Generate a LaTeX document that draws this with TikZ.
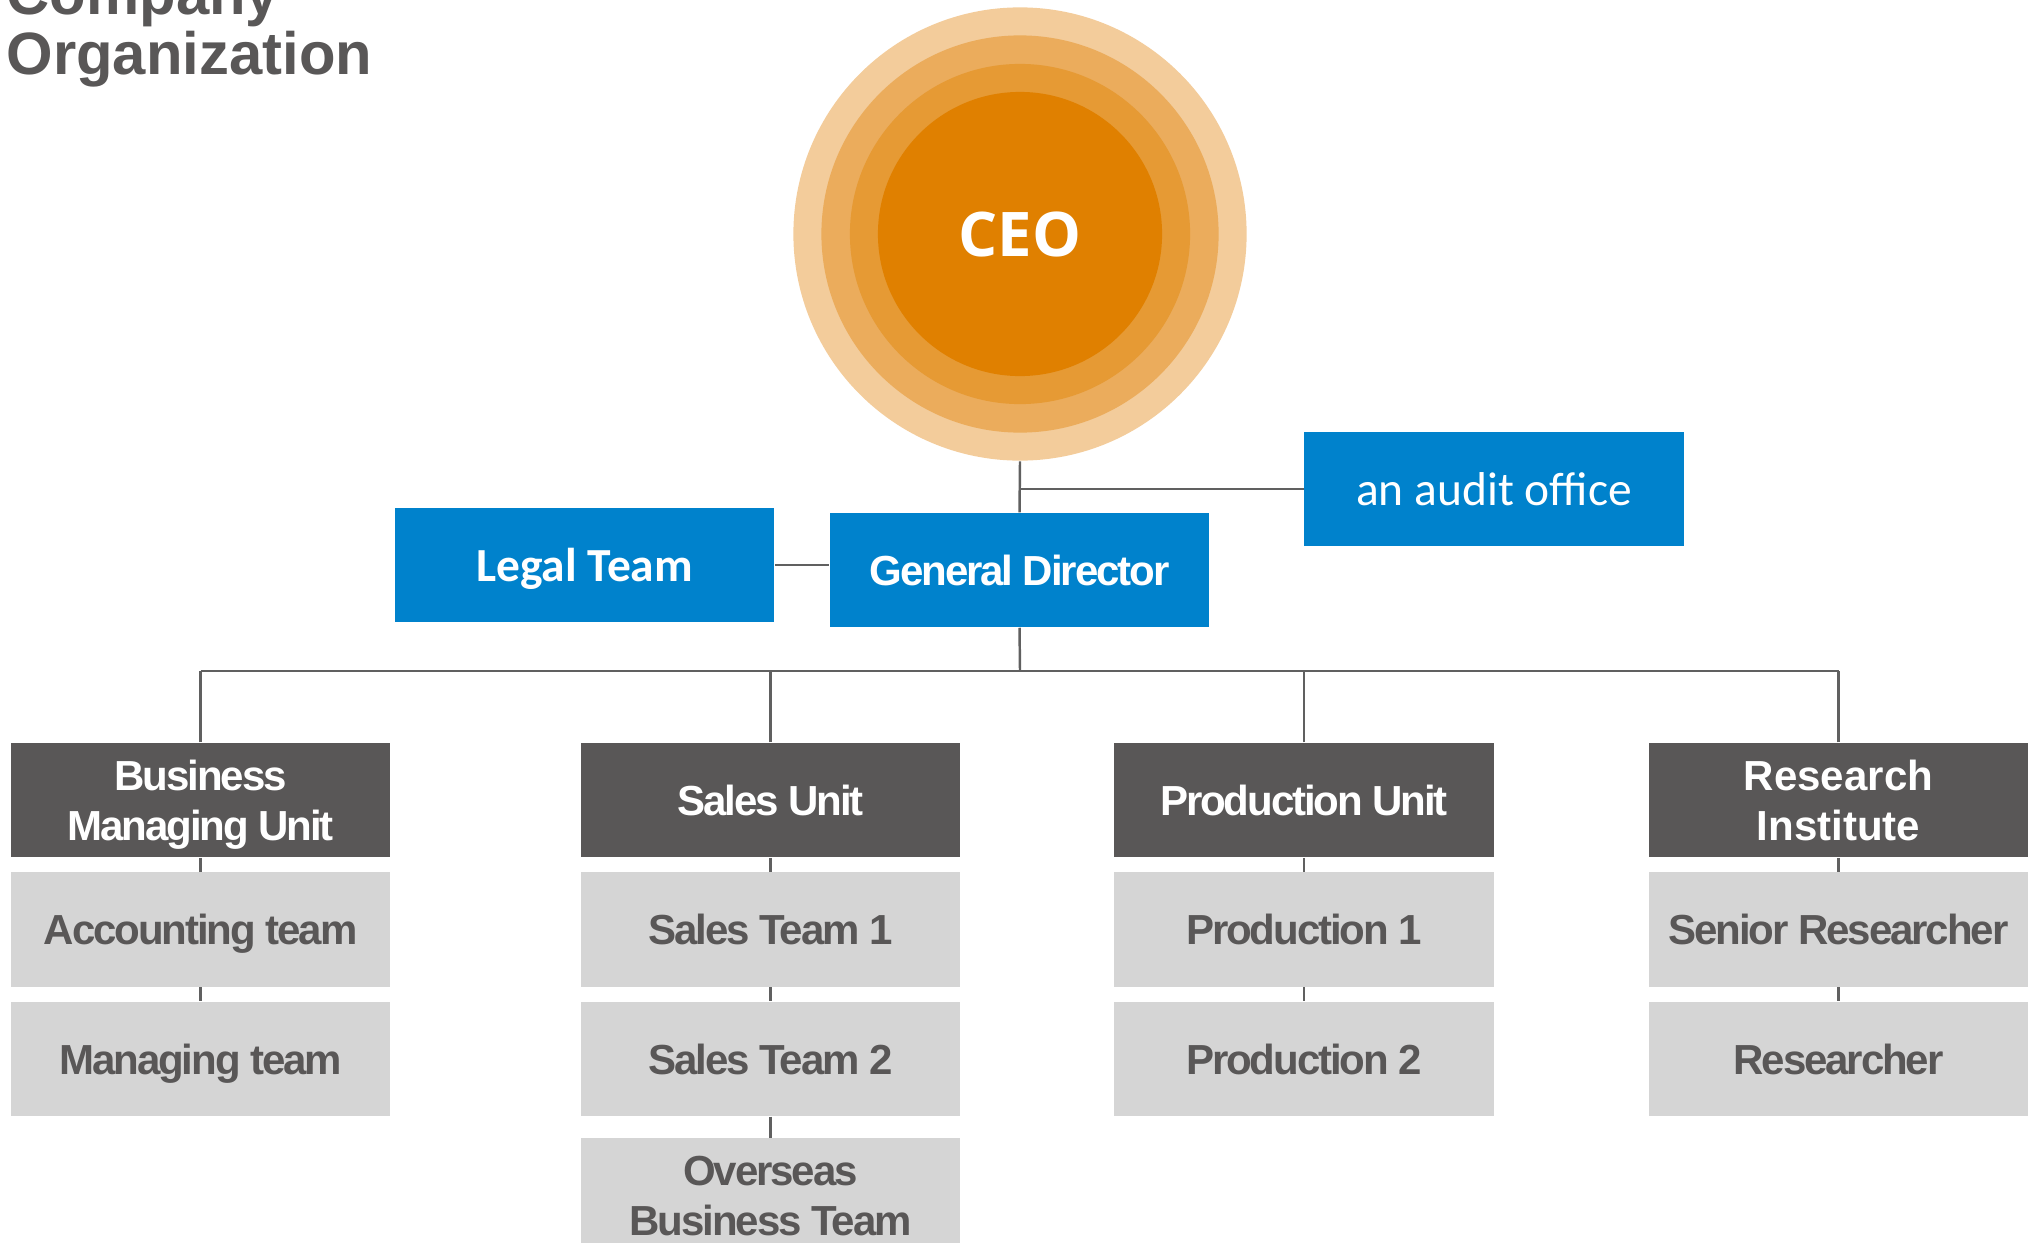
\documentclass[tikz,border=0pt]{standalone}
\usepackage{fontspec}
\setmainfont{Liberation Sans}
\newfontfamily\tightfont{Liberation Sans}[LetterSpace=-5]
\newfontfamily\calfont{Carlito}
\newfontfamily\ceofont{Open Sans}
\usetikzlibrary{positioning}
\definecolor{ringA}{RGB}{243,204,155}
\definecolor{ringB}{RGB}{235,172,92}
\definecolor{ringC}{RGB}{230,154,52}
\definecolor{ringD}{RGB}{224,128,0}
\definecolor{bizblue}{RGB}{0,130,204}
\definecolor{unitgray}{RGB}{89,87,87}
\definecolor{teamgray}{RGB}{213,213,213}
\definecolor{linegray}{RGB}{96,96,96}

\begin{document}
\begin{tikzpicture}[x=0.01cm,y=-0.01cm,
   link/.style={draw=linegray,line width=0.7pt},
   ring/.style={circle,inner sep=0pt},
   titletext/.style={anchor=base west,inner sep=0pt,text=unitgray,font=\bfseries\fontsize{17}{20}\selectfont},
   bluebox/.style={fill=bizblue,text=white,minimum width=3.79cm,minimum height=1.14cm,inner sep=0pt,text depth=0pt,align=center},
   unitbox/.style={fill=unitgray,text=white,minimum width=3.79cm,minimum height=1.14cm,inner sep=0pt,text depth=0pt,align=center,font=\tightfont\bfseries\fontsize{11.95}{14.2}\selectfont},
   teambox/.style={unitbox,fill=teamgray,text=unitgray},
   node distance=0.14cm]
   \useasboundingbox (0,0) rectangle (2037,1242);
   \node[titletext] (title1) at (6,14) {Company};
   \node[titletext] (title2) at (6,74) {Organization};
   \node[ring,fill=ringA,minimum size=4.53cm] (ring1) at (1020,234) {};
   \node[ring,fill=ringB,minimum size=3.97cm] (ring2) at (1020,234) {};
   \node[ring,fill=ringC,minimum size=3.40cm] (ring3) at (1020,234) {};
   \node[ring,fill=ringD,minimum size=2.84cm,text=white,font=\ceofont\bfseries\fontsize{17.5}{20}\selectfont] (ceo) at (1020,234) {CEO};
   \node[bluebox,font=\tightfont\bfseries\fontsize{11.95}{14.2}\selectfont] (gd) at (1019.5,570) {General Director};
   \node[bluebox,font=\calfont\bfseries\fontsize{13.5}{16}\selectfont] (legal) at (584.5,565) {Legal Team};
   \node[bluebox,font=\calfont\fontsize{13.5}{16}\selectfont] (audit) at (1494,489) {an audit office};
   \node[unitbox] (bmu) at (200.6,800) {Business\\Managing Unit};
   \node[unitbox] (sales) at (770.6,800) {Sales Unit};
   \node[unitbox] (prod) at (1304,800) {Production Unit};
   \node[unitbox,font=\bfseries\fontsize{11.95}{14.2}\selectfont] (ri) at (1838.5,800) {Research\\Institute};
   \node[teambox,below=of bmu] (acc) {Accounting team};
   \node[teambox,below=of acc] (mng) {Managing team};
   \node[teambox,below=of sales] (st1) {Sales Team 1};
   \node[teambox,below=of st1] (st2) {Sales Team 2};
   \node[teambox,below=0.21cm of st2] (ovs) {Overseas\\Business Team};
   \node[teambox,below=of prod] (pr1) {Production 1};
   \node[teambox,below=of pr1] (pr2) {Production 2};
   \node[teambox,below=of ri] (sr) {Senior Researcher};
   \node[teambox,below=of sr] (res) {Researcher};
   \coordinate (bus) at (1020,671);
   \draw[link] (ring1.south) -- (gd.north);
   \draw[link] (audit.west) -- (audit.west -| gd.north);
   \draw[link] (legal.east) -- (legal.east -| gd.west);
   \draw[link] (gd.south) -- (bus);
   \draw[link] (bmu.north |- bus) -- (ri.north |- bus);
   \foreach \u in {bmu,sales,prod,ri}
      \draw[link] (\u.north) -- (\u.north |- bus);
   \foreach \a/\b in {bmu/acc,acc/mng,sales/st1,st1/st2,st2/ovs,prod/pr1,pr1/pr2,ri/sr,sr/res}
      \draw[link] (\a.south) -- (\b.north);
\end{tikzpicture}
\end{document}
